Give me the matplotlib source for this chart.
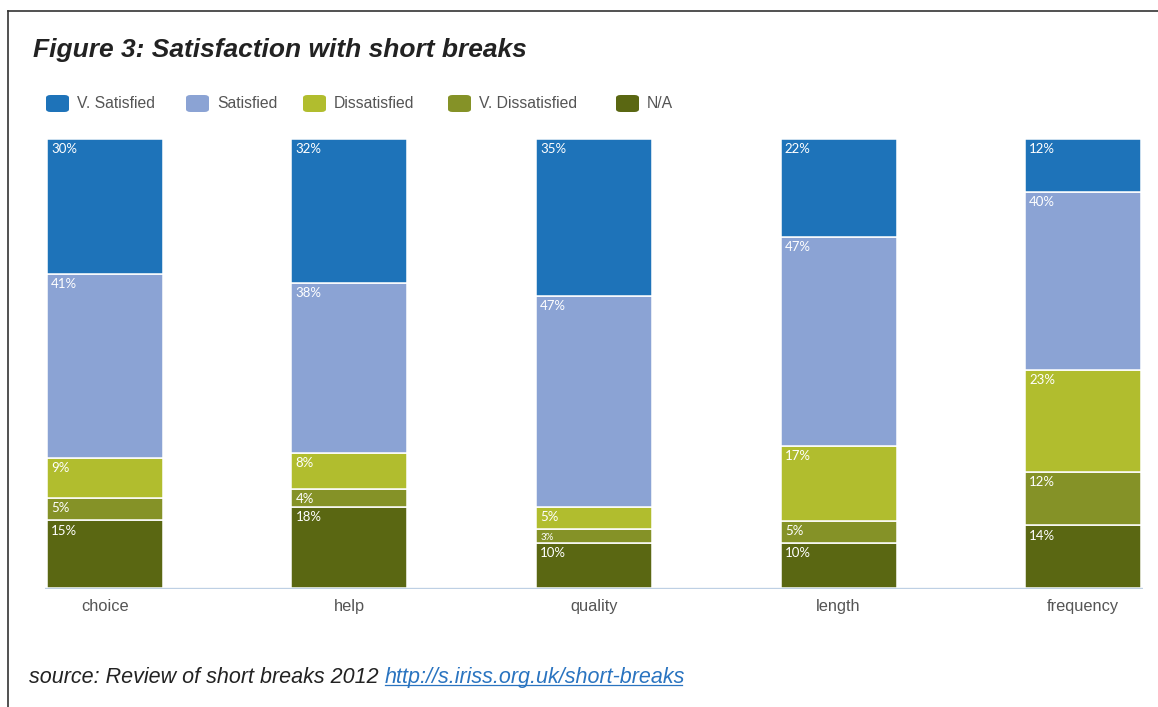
import matplotlib
matplotlib.use('Agg')
import matplotlib.pyplot as plt
import numpy as np
from matplotlib.patches import FancyBboxPatch
from matplotlib.lines import Line2D

# survey answers, percent of respondents per aspect
categories = ['choice', 'help', 'quality', 'length', 'frequency']
series = ['V. Satisfied', 'Satisfied', 'Dissatisfied', 'V. Dissatisfied', 'N/A']
v_satisfied = [30, 32, 35, 22, 12]
satisfied = [41, 38, 47, 47, 40]
dissatisfied = [9, 8, 5, 17, 23]
v_dissatisfied = [5, 4, 3, 5, 12]
not_applicable = [15, 18, 10, 10, 14]

colors = ['#1e73b9', '#8ba3d4', '#b1bd2e', '#859227', '#5a6712']
values = np.array([v_satisfied, satisfied, dissatisfied, v_dissatisfied, not_applicable], dtype=float)
totals = values.sum(axis=0)
shares = values / totals * 100  # each bar stacked to 100%

W, H = 1158, 707
fig = plt.figure(figsize=(W / 100, H / 100), dpi=100)
fig.patch.set_facecolor('white')

ax = fig.add_axes([45 / W, 1 - 589 / H, 1098 / W, 450 / H])
x = np.arange(len(categories))
bw = 0.474

# top segment first (V. Satisfied), N/A at the bottom
bottom = np.zeros(len(categories))
for i in range(len(series) - 1, -1, -1):
	bars = ax.bar(x, shares[i], bw, bottom=bottom, color=colors[i], edgecolor='white', linewidth=1.1)
	for j in range(len(categories)):
		top = bottom[j] + shares[i][j]
		fs = 7 if values[i][j] < 4 else 9.5
		ax.annotate('%d%%' % values[i][j], xy=(x[j] - bw / 2, top), xytext=(3, -3),
			textcoords='offset points', ha='left', va='top', color='white', fontsize=fs, family='Lato')
	bottom += shares[i]

ax.axhline(-0.3, color='#bed0e4', lw=2.4, xmin=0, xmax=1)
ax.set_xlim(-0.245, 4.245)
ax.set_ylim(-0.3, 100)
ax.set_xticks(x)
ax.set_xticklabels(categories, fontsize=11.8, color='#555555', family='Liberation Sans')
ax.tick_params(axis='x', length=0, pad=7)
ax.set_yticks([])
for s in ax.spines.values():
	s.set_visible(False)

# title
fig.text(33 / W, 1 - 50 / H, 'Figure 3: Satisfaction with short breaks', fontsize=19, fontweight='bold',
	style='italic', family='Liberation Sans', color='#222222', va='center', ha='left')

# legend
leg_x = [46, 186, 303, 448, 616]
for lx, name, c in zip(leg_x, series, colors):
	fig.patches.append(FancyBboxPatch((lx / W, 1 - 112 / H), 23 / W, 17 / H, boxstyle='round,pad=0,rounding_size=0.004',
		transform=fig.transFigure, facecolor=c, edgecolor='none'))
	fig.text((lx + 31) / W, 1 - 104 / H, name, fontsize=11.3, color='#555555', family='Liberation Sans',
		va='center', ha='left')

# frame lines
fig.add_artist(Line2D([8 / W, 1], [1 - 11 / H, 1 - 11 / H], color='#333333', lw=1.2, transform=fig.transFigure))
fig.add_artist(Line2D([8 / W, 8 / W], [0, 1 - 11 / H], color='#333333', lw=1.2, transform=fig.transFigure))

# source line with link
base_y = 1 - 683 / H
src = fig.text(29 / W, base_y, 'source: Review of short breaks 2012 ', fontsize=15.5, style='italic',
	family='Liberation Sans', color='#222222', va='baseline', ha='left')
fig.canvas.draw()
r = fig.canvas.get_renderer()
bb = src.get_window_extent(r)
link = fig.text(bb.x1 / W, base_y, 'http://s.iriss.org.uk/short-breaks', fontsize=15.5, style='italic',
	family='Liberation Sans', color='#2a74c0', va='baseline', ha='left')
lb = link.get_window_extent(r)
fig.add_artist(Line2D([lb.x0 / W, (lb.x1 - 3) / W], [base_y - 2 / H, base_y - 2 / H], color='#2a74c0', lw=0.9,
	transform=fig.transFigure))

fig.savefig('out.png', dpi=100)
